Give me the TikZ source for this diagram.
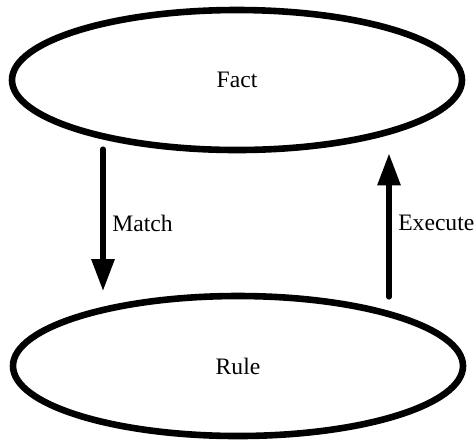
\documentclass[tikz,border=0pt]{standalone}
\usepackage{fontspec}
\setmainfont{Liberation Serif}
\usetikzlibrary{arrows.meta, positioning, shapes.geometric}

\tikzset{
  state/.style={draw=black, ellipse, line width=3.3pt,
                minimum width=225pt, minimum height=70pt},
  flow/.style={-{Triangle[length=16pt,width=11pt]}, line width=2.9pt,
               line cap=round},
  lbl/.style={font=\fontsize{11.8}{14}\selectfont, inner sep=0pt}
}

\begin{document}
\begin{tikzpicture}[x=0.5pt, y=-0.5pt]
  \useasboundingbox (0,0) rectangle (475,441);
  \node[state, font=\fontsize{11.8}{14}\selectfont] (fact) at (237,80) {Fact};
  \node[state, font=\fontsize{11.8}{14}\selectfont] (rule) at (238,366) {Rule};
  \coordinate (mx) at (103,0);
  \coordinate (ex) at (389,0);
  \draw[flow, shorten <=-2pt, shorten >=0.8pt] (fact.south -| mx) -- (rule.north -| mx)
    node[lbl, midway, right=3.2pt] (match) {Match};
  \draw[flow, shorten <=-2pt] (rule.north -| ex) -- (fact.south -| ex)
    node[lbl, midway, right=3.2pt] (execute) {Execute};
\end{tikzpicture}
\end{document}
